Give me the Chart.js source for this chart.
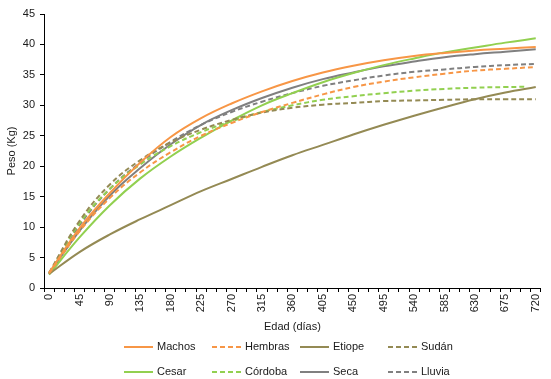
<!DOCTYPE html>
<html>
<head>
<meta charset="utf-8">
<script src="https://cdn.jsdelivr.net/npm/chart.js@4.4.1/dist/chart.umd.min.js"></script>
<style>
  html, body { margin: 0; padding: 0; background: #fff; }
</style>
</head>
<body>
<canvas id="curvas" width="551" height="379"></canvas>
<script>
// Edad en días (eje de categorías cada 15 días, etiqueta cada 45)
const categorias = ['0','15','30','45','60','75','90','105','120','135','150','165','180','195','210','225',
  '240','255','270','285','300','315','330','345','360','375','390','405','420','435','450','465','480',
  '495','510','525','540','555','570','585','600','615','630','645','660','675','690','705','720'];

// días
const dias = [0, 45, 90, 135, 180, 225, 270, 315, 360, 405, 450, 495, 540, 585, 630, 675, 720];
const diasCordoba = [0, 45, 90, 135, 180, 225, 270, 315, 360, 405, 450, 495, 540, 585, 630, 675, 705];

// peso (kg)
const machos  = [2.5, 9.8, 15.6, 20.6, 24.8, 27.9, 30.3, 32.3, 34.0, 35.4, 36.5, 37.4, 38.1, 38.6, 39.0, 39.3, 39.6];
const hembras = [2.4, 9.3, 14.8, 19.0, 22.3, 25.0, 27.1, 28.9, 30.4, 31.8, 33.0, 33.9, 34.6, 35.2, 35.7, 36.0, 36.3];
const etiope  = [2.3, 5.9, 8.8, 11.3, 13.6, 15.9, 17.9, 19.9, 21.8, 23.5, 25.2, 26.8, 28.3, 29.7, 31.0, 32.1, 33.0];
const sudan   = [2.5, 11.0, 17.0, 21.0, 23.9, 26.0, 27.6, 28.8, 29.6, 30.1, 30.4, 30.7, 30.8, 30.9, 31.0, 31.0, 31.0];
const cesar   = [2.2, 8.3, 13.6, 18.0, 21.6, 24.7, 27.5, 30.0, 32.0, 33.8, 35.3, 36.6, 37.7, 38.7, 39.5, 40.3, 41.0];
const cordoba = [2.4, 10.6, 16.3, 20.3, 23.3, 25.6, 27.4, 28.9, 30.0, 30.9, 31.5, 32.0, 32.4, 32.7, 32.9, 33.0, 33.05];
const seca    = [2.3, 9.4, 15.2, 19.7, 23.6, 26.8, 29.2, 31.2, 32.9, 34.3, 35.4, 36.4, 37.2, 37.9, 38.4, 38.8, 39.2];
const lluvia  = [2.4, 10.3, 16.3, 20.6, 24.0, 26.8, 28.9, 30.6, 32.0, 33.2, 34.1, 34.9, 35.5, 35.9, 36.3, 36.6, 36.8];

const NARANJA = '#F79646', OLIVA = '#948A54', VERDE = '#92D050', GRIS = '#808080';
const fuente = { family: '"Liberation Sans", Arial, sans-serif', size: 11 };
const colorTexto = '#1a1a1a';

function serie(label, x, y, color, dash) {
  return {
    label: label,
    data: x.map((d, i) => ({ x: String(d), y: y[i] })),
    borderColor: color,
    backgroundColor: color,
    borderWidth: 2,
    borderDash: dash ? [5, 3] : [],
    pointRadius: 0,
    tension: 0.4,
    fill: false
  };
}

// leyenda en dos filas con columnas alineadas
const leyenda = {
  id: 'leyenda',
  afterDraw(chart) {
    const ctx = chart.ctx;
    ctx.save();
    chart.data.datasets.forEach((ds, i) => {
      const x = 124 + (i % 4) * 88;
      const y = 347 + Math.floor(i / 4) * 25;
      ctx.strokeStyle = ds.borderColor;
      ctx.lineWidth = 2;
      ctx.setLineDash(ds.borderDash);
      ctx.beginPath();
      ctx.moveTo(x, y);
      ctx.lineTo(x + 29, y);
      ctx.stroke();
      ctx.setLineDash([]);
      ctx.fillStyle = colorTexto;
      ctx.font = '11px "Liberation Sans", Arial, sans-serif';
      ctx.textBaseline = 'middle';
      ctx.fillText(ds.label, x + 33, y);
    });
    ctx.restore();
  }
};

new Chart(document.getElementById('curvas'), {
  type: 'line',
  data: {
    labels: categorias,
    datasets: [
      serie('Machos', dias, machos, NARANJA, false),
      serie('Hembras', dias, hembras, NARANJA, true),
      serie('Etiope', dias, etiope, OLIVA, false),
      serie('Sudán', dias, sudan, OLIVA, true),
      serie('Cesar', dias, cesar, VERDE, false),
      serie('Córdoba', diasCordoba, cordoba, VERDE, true),
      serie('Seca', dias, seca, GRIS, false),
      serie('Lluvia', dias, lluvia, GRIS, true)
    ]
  },
  options: {
    responsive: false,
    animation: false,
    devicePixelRatio: 1,
    layout: { padding: { left: 5, right: 5, top: 14, bottom: 41 } },
    plugins: { legend: { display: false }, tooltip: { enabled: false } },
    scales: {
      x: {
        type: 'category',
        offset: true,
        grid: { offset: true, drawOnChartArea: false, tickLength: 4, color: '#000' },
        border: { color: '#000', width: 1 },
        ticks: {
          autoSkip: false, minRotation: 90, maxRotation: 90, padding: 2,
          font: fuente, color: colorTexto,
          callback(v) {
            const l = this.getLabelForValue(v);
            return Number(l) % 45 === 0 ? l : '';
          }
        },
        title: { display: true, text: 'Edad (días)', font: fuente, color: colorTexto, padding: { top: 4, bottom: 4 } },
        afterFit(s) { s.height = 50; }
      },
      y: {
        min: 0, max: 45,
        ticks: { stepSize: 5, padding: 5, font: fuente, color: colorTexto },
        grid: { drawOnChartArea: false, tickLength: 4, color: '#000' },
        border: { color: '#000', width: 1 },
        title: { display: true, text: 'Peso (Kg)', font: fuente, color: colorTexto, padding: { top: 0, bottom: 4 } },
        afterFit(s) { s.width = 39; }
      }
    }
  },
  plugins: [leyenda]
});
</script>
</body>
</html>
